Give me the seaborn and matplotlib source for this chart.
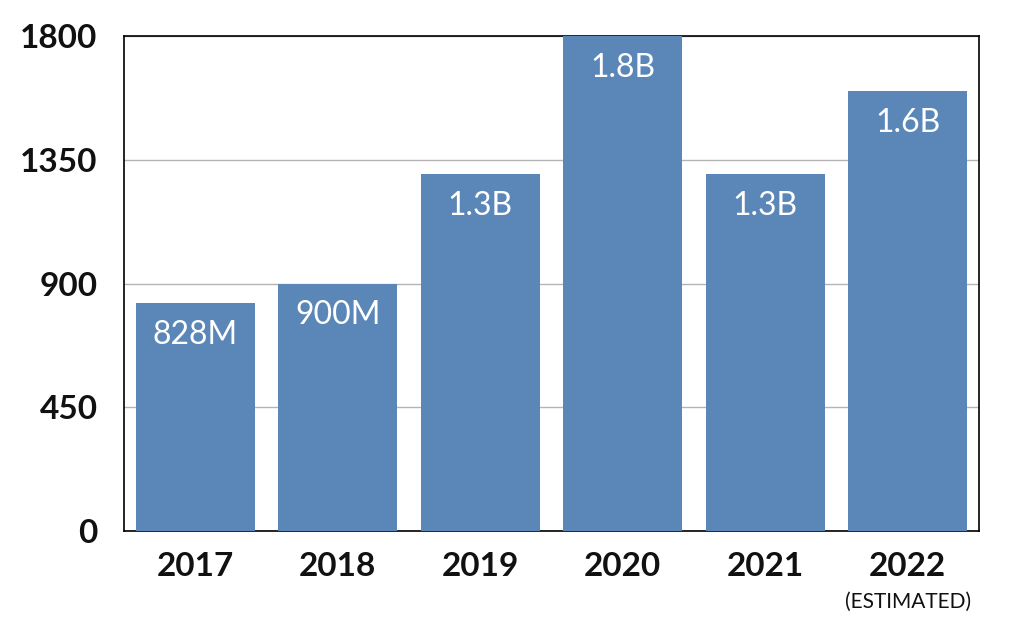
import matplotlib
matplotlib.use("Agg")
import matplotlib.pyplot as plt
import matplotlib.transforms as mtransforms
import seaborn as sns
import pandas as pd

years = ["2017", "2018", "2019", "2020", "2021", "2022"]
values = [828, 900, 1300, 1800, 1300, 1600]
bar_labels = ["828M", "900M", "1.3B", "1.8B", "1.3B", "1.6B"]
y_ticks = [0, 450, 900, 1350, 1800]
note_year = "2022"
note_text = "(ESTIMATED)"

sns.set_theme(style="white")
plt.rcParams['font.family'] = ['Lato', 'DejaVu Sans']

df = pd.DataFrame({"year": years, "value": values})

fig = plt.figure(figsize=(10.26, 6.33), dpi=100)
ax = fig.add_axes([0.1209, 0.1611, 0.954 - 0.1209, 0.943 - 0.1611])

sns.barplot(data=df, x="year", y="value", color="#5b87b8", saturation=1,
            width=0.835, ax=ax, zorder=3, linewidth=0, edgecolor="none")

ax.set_ylim(0, 1800)
ax.set_xlim(-0.5, len(years) - 0.5)
ax.set_yticks(y_ticks)
ax.set_yticklabels([str(t) for t in y_ticks])
ax.yaxis.grid(True, color="#b4b4b4", linewidth=1, zorder=0)
ax.set_axisbelow(True)
for s in ax.spines.values():
    s.set_visible(True)
    s.set_color("black")
    s.set_linewidth(1.2)
ax.tick_params(axis="y", length=0, pad=19, labelsize=24)
ax.tick_params(axis="x", length=0, pad=15, labelsize=24)
for lab in ax.get_yticklabels() + ax.get_xticklabels():
    lab.set_fontweight("bold")
    lab.set_color("#111111")
ax.set_xlabel("")
ax.set_ylabel("")

for i, (v, t) in enumerate(zip(values, bar_labels)):
    ax.annotate(t, xy=(i, v), xytext=(0, -23), textcoords="offset points",
                ha="center", va="center", color="white", fontsize=23, zorder=5)

idx = years.index(note_year)
trans = mtransforms.blended_transform_factory(ax.transData, ax.transAxes)
ax.annotate(note_text, xy=(idx, 0), xycoords=trans, xytext=(0, -51),
            textcoords="offset points", ha="center", va="center",
            fontsize=15, color="#111111")

fig.savefig("out.png", dpi=100)
